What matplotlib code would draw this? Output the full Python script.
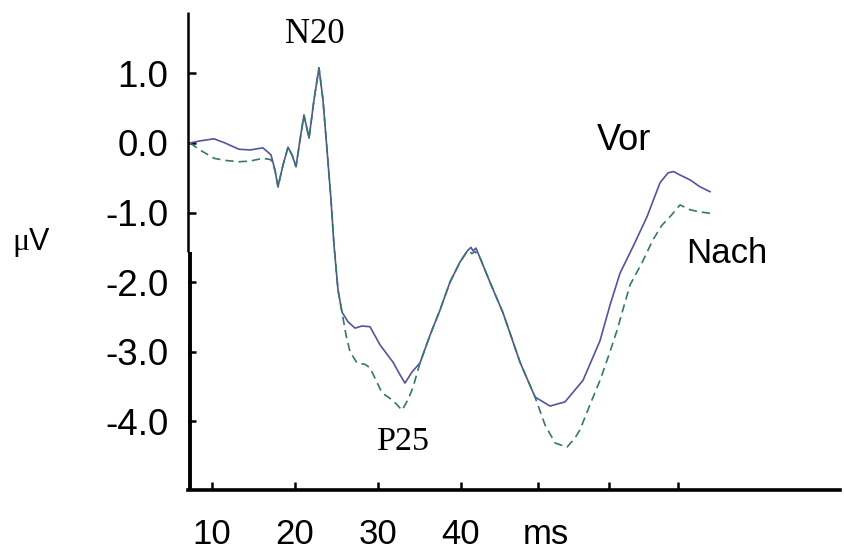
import matplotlib
matplotlib.use("Agg")
import matplotlib.pyplot as plt
from matplotlib.lines import Line2D

# ---- data (time in ms, amplitude in microvolts) ----
vor_t = [7.35, 8.55, 10.24, 11.57, 13.25, 14.58, 16.14, 17.11, 17.59, 17.95, 18.55, 19.16, 19.64, 20.12,
         20.60, 21.08, 21.69, 22.29, 22.89, 23.37, 23.86, 24.34, 24.70, 25.18, 25.66, 26.39, 27.23, 28.07,
         29.04, 30.24, 31.81, 32.65, 33.25, 34.10, 35.06, 36.27, 37.47, 38.67, 39.88, 40.84, 41.20, 41.45,
         41.80, 42.29, 43.49, 45.06, 47.11, 48.92, 50.72, 52.53, 54.70, 56.75, 57.95, 59.16, 60.72, 62.41,
         63.98, 64.94, 65.60, 66.39, 67.59, 68.80, 70.00]
vor_v = [0.00, 0.03, 0.06, 0.00, -0.09, -0.10, -0.07, -0.17, -0.39, -0.63, -0.32, -0.06, -0.17, -0.34,
         0.04, 0.40, 0.07, 0.62, 1.08, 0.62, -0.10, -0.82, -1.47, -2.11, -2.43, -2.57, -2.66, -2.63,
         -2.64, -2.90, -3.15, -3.33, -3.45, -3.29, -3.16, -2.76, -2.40, -2.00, -1.71, -1.54, -1.50, -1.55,
         -1.51, -1.65, -2.00, -2.44, -3.15, -3.65, -3.78, -3.72, -3.41, -2.84, -2.33, -1.87, -1.49, -1.06,
         -0.57, -0.43, -0.41, -0.46, -0.53, -0.63, -0.70]

nach_t = [7.35, 8.55, 10.24, 11.57, 13.25, 14.58, 16.14, 17.11, 17.59, 17.95, 18.55, 19.16, 19.64, 20.12,
          20.60, 21.08, 21.69, 22.29, 22.89, 23.37, 23.86, 24.34, 24.70, 25.18, 25.66, 26.15, 26.63, 27.47,
          28.43, 29.04, 29.76, 30.48, 31.69, 32.29, 32.89, 33.61, 34.22, 35.06, 36.27, 37.47, 38.67, 39.88,
          40.60, 41.00, 41.30, 41.70, 42.29, 43.49, 45.06, 47.11, 48.92, 50.12, 51.33, 52.77, 53.73, 54.34,
          55.54, 56.75, 57.95, 58.80, 60.36, 61.81, 63.13, 64.22, 65.18, 66.39, 67.59, 68.80, 70.00]
nach_v = [0.00, -0.10, -0.22, -0.25, -0.27, -0.26, -0.22, -0.24, -0.39, -0.63, -0.32, -0.06, -0.17, -0.34,
          0.04, 0.40, 0.07, 0.62, 1.08, 0.62, -0.10, -0.82, -1.47, -2.11, -2.43, -2.76, -3.00, -3.16,
          -3.18, -3.23, -3.41, -3.59, -3.69, -3.76, -3.84, -3.69, -3.51, -3.16, -2.76, -2.40, -2.00, -1.71,
          -1.58, -1.55, -1.59, -1.56, -1.65, -2.00, -2.44, -3.15, -3.65, -4.05, -4.31, -4.37, -4.24, -4.12,
          -3.76, -3.41, -3.00, -2.69, -2.04, -1.72, -1.39, -1.18, -1.06, -0.89, -0.96, -0.99, -1.01]

x_ticks = [10, 20, 30, 40, 49.3, 57.8, 66.1]
x_tick_labels = ["10", "20", "30", "40", "", "", ""]
y_ticks = [1.0, 0.0, -1.0, -2.0, -3.0, -4.0]
y_tick_labels = ["1.0", "0.0", "-1.0", "-2.0", "-3.0", "-4.0"]

W, H = 844, 554
fig = plt.figure(figsize=(W / 100, H / 100), dpi=100)
ax_w_px, ax_h_px = 840 - 188, 490 - 12
ax = fig.add_axes([188 / W, (H - 490) / H, ax_w_px / W, ax_h_px / H])

ax.plot(vor_t, vor_v, color="#55529e", lw=1.2, solid_joinstyle="round")
ax.plot(nach_t, nach_v, color="#347a64", lw=1.2, linestyle=(0, (5, 3)))

ax.set_xlim(7.11, 85.66)
ax.set_ylim(-4.986, 1.882)

for s in ["top", "right", "left"]:
    ax.spines[s].set_visible(False)
ax.spines["bottom"].set_linewidth(2.6)
ax.spines["bottom"].set_color("black")

# broken left axis line (two slightly offset segments, as in the original)
brk = (490 - 252) / ax_h_px
ax.add_line(Line2D([0, 0], [brk, 1.0], transform=ax.transAxes, color="black", lw=1.8,
                   solid_capstyle="butt", clip_on=False))
dx = 2 / ax_w_px
ax.add_line(Line2D([dx, dx], [0.0, brk], transform=ax.transAxes, color="black", lw=2.8,
                   solid_capstyle="butt", clip_on=False))

sans = "Liberation Sans"
serif = "Liberation Serif"

ax.set_xticks(x_ticks)
ax.set_xticklabels(x_tick_labels, fontfamily=sans, fontsize=25)
ax.set_yticks(y_ticks)
ax.set_yticklabels(y_tick_labels, fontfamily=sans, fontsize=26.5)
ax.tick_params(axis="x", direction="in", length=6, width=1.8, pad=20)
ax.tick_params(axis="y", direction="in", length=6, width=1.8, pad=14)

ax.annotate("ms", xy=(50.2, 0), xycoords=("data", "axes fraction"), xytext=(0, -20),
            textcoords="offset points", ha="center", va="top", fontfamily=sans, fontsize=25)

ax.text(22.41, 1.437, "N20", ha="center", va="baseline", fontfamily=serif, fontsize=25)
ax.text(33.01, -4.411, "P25", ha="center", va="baseline", fontfamily=serif, fontsize=24.5)
ax.text(59.70, -0.10, "Vor", ha="center", va="baseline", fontfamily=sans, fontsize=26)
ax.text(71.99, -1.724, "Nach", ha="center", va="baseline", fontfamily=sans, fontsize=25)

fig.text(12 / W, (H - 250) / H, "\u03bc", ha="left", va="baseline", fontfamily=serif, fontsize=23)
fig.text(29 / W, (H - 250) / H, "V", ha="left", va="baseline", fontfamily=sans, fontsize=22)

fig.savefig("out.png", dpi=100)
